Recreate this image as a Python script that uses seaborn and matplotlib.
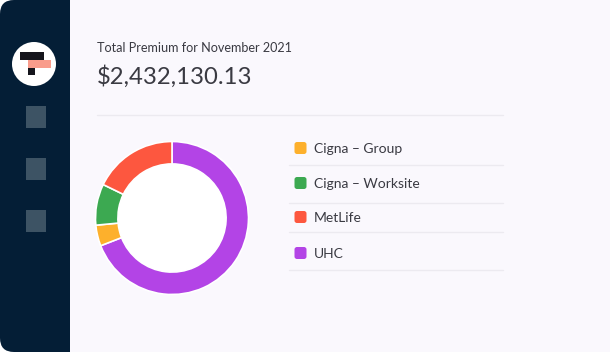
import matplotlib
matplotlib.use('Agg')
import seaborn as sns
import matplotlib.pyplot as plt
from matplotlib.patches import Circle, FancyBboxPatch, Rectangle

carriers = ['Cigna – Group', 'Cigna – Worksite', 'MetLife', 'UHC']
shares = [4.4, 8.7, 17.8, 69.1]
colors = ['#FDB02C', '#3CA951', '#FD573F', '#B344E6']
title = 'Total Premium for November 2021'
total = '$2,432,130.13'

W, H = 610, 354
NAVY = '#041E36'
PAGE = '#FAF8FD'
INK = '#3A3A42'
RULE = '#ECEAF0'
FONT = 'Lato'

sns.set_theme(style='white', rc={'font.family': FONT})
palette = sns.color_palette(colors)

fig = plt.figure(figsize=(W / 100, H / 100), dpi=100, facecolor='white')

# whole-figure axes in pixel coordinates for the page furniture
bg = fig.add_axes([0, 0, 1, 1])
bg.set_xlim(0, W)
bg.set_ylim(H, 0)
bg.axis('off')

# sidebar is a rounded box, its right side hidden under the page
bg.add_patch(FancyBboxPatch((14, 14), 100, 324, boxstyle='round,pad=14,rounding_size=14',
                            fc=NAVY, ec='none', lw=0))
bg.add_patch(Rectangle((70, 0), W - 70, 352, fc=PAGE, ec='none', lw=0))

# logo
bg.add_patch(Circle((34, 64), 22, fc='white', ec='none'))
bg.add_patch(Rectangle((20, 52), 24, 8, fc='#15151C', ec='none'))
bg.add_patch(Rectangle((28, 68), 7, 7, fc='#15151C', ec='none'))
bg.add_patch(Rectangle((28, 60), 23, 7.5, fc='#F99C8B', ec='none'))

# sidebar squares
for y in [106, 158, 210]:
    bg.add_patch(Rectangle((26, y), 20, 22, fc='#3D5364', ec='none'))

bg.text(97, 47.5, title, fontsize=9.05, color=INK, va='center', ha='left')
bg.text(97, 77, total, fontsize=17.2, color=INK, va='center', ha='left')
bg.plot([97, 503], [114.5, 114.5], color=RULE, lw=1)

# legend rows
text_y = [149, 184, 218, 254]
rule_y = [165, 203, 232, 270]
for name, col, ty, ry in zip(carriers, palette, text_y, rule_y):
    bg.add_patch(FancyBboxPatch((296, ty - 5.5), 9, 9, boxstyle='round,pad=1.5,rounding_size=2.5',
                                fc=col, ec='none'))
    bg.text(314, ty, name, fontsize=10, color=INK, va='center', ha='left')
    bg.plot([289, 503], [ry, ry], color=RULE, lw=1)

# ring, drawn clockwise from the top starting with UHC
cx, cy, r = 172, 218, 76.5
ax = fig.add_axes([(cx - r) / W, 1 - (cy + r) / H, 2 * r / W, 2 * r / H])
order = [3, 0, 1, 2]
ax.pie([shares[i] for i in order], colors=[palette[i] for i in order], radius=1,
       startangle=90, counterclock=False,
       wedgeprops={'width': 0.293, 'edgecolor': 'white', 'linewidth': 1.2})
ax.add_patch(Circle((0, 0), 0.707, fc='white', ec='none', zorder=0))
ax.set_xlim(-1, 1)
ax.set_ylim(-1, 1)
ax.axis('off')

fig.savefig('out.png', dpi=100, facecolor='white')
